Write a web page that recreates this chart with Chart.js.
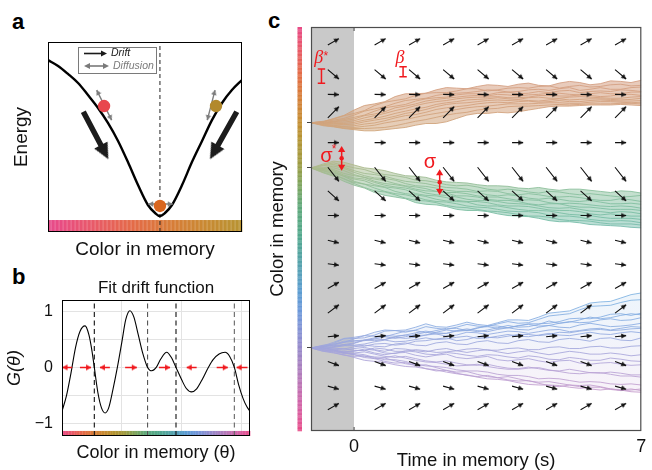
<!DOCTYPE html>
<html>
<head>
<meta charset="utf-8">
<title>Drift and diffusion of colours held in memory</title>
<script src="https://cdn.jsdelivr.net/npm/chart.js@4.4.1/dist/chart.umd.min.js"></script>
<style>
  html, body { margin: 0; padding: 0; background: #fff; }
  body { width: 652px; height: 470px; position: relative; overflow: hidden; }
  canvas { position: absolute; }
  .panel-tag { position: absolute; font: bold 22px "Liberation Sans", Arial, sans-serif; line-height: 22px; color: #000; }
</style>
</head>
<body>
<div class="panel-tag" style="left:12px;top:11px">a</div>
<div class="panel-tag" style="left:12px;top:266px">b</div>
<div class="panel-tag" style="left:268px;top:10px">c</div>
<canvas id="panelA" width="262" height="262" style="left:0;top:0"></canvas>
<canvas id="panelB" width="262" height="208" style="left:0;top:262px"></canvas>
<canvas id="panelC" width="390" height="470" style="left:262px;top:0"></canvas>
<script>
// ---------------- a: energy landscape over remembered colour ----------------
const energyColor = [0, 5.2, 10.3, 15.5, 20.6, 25.8, 30.9, 36.1, 41.2, 46.4, 51.5, 55.2, 57.7, 60.3, 63.9, 69.1, 74.2, 79.4, 84.5, 89.7, 94.8, 100];
const energyLevel = [90.5, 87.4, 83.2, 78.4, 72.1, 65.3, 57.4, 47.9, 36.8, 24.7, 14.2, 10, 8.4, 10, 14.2, 24.7, 36.8, 47.9, 58.9, 67.9, 74.7, 80];
const wellCentre = 57.7;
const itemColor = [28.9, 57.7, 86.6];
const itemLevel = [66.3, 13.7, 66.3];
const diffusionArrows = [[25.1, 74.7, 32.8, 58.9], [51.7, 14.7, 64.3, 14.7], [86.1, 74.7, 82.1, 58.9]];
const driftArrows = [[18.2, 63.3, 31.1, 38.3], [97.3, 63.3, 83.5, 38.3]];

// ---------------- b: fitted drift function G(θ) ----------------
const driftTheta = [0, 0.15, 0.3, 0.45, 0.6, 0.77, 0.9, 1.0, 1.08, 1.2, 1.32, 1.44, 1.56, 1.7, 1.85, 2.0, 2.13, 2.27, 2.4, 2.55, 2.7, 2.86, 3.0, 3.15, 3.3, 3.5, 3.65, 3.81, 4.0, 4.15, 4.33, 4.5, 4.7, 4.89, 5.05, 5.25, 5.45, 5.6, 5.76, 5.9, 6.05, 6.18, 6.283];
const driftG = [-0.78, -0.5, -0.1, 0.35, 0.64, 0.74, 0.58, 0.3, 0, -0.45, -0.72, -0.81, -0.72, -0.4, 0, 0.45, 0.85, 1.01, 0.9, 0.58, 0.25, 0, -0.06, 0, 0.15, 0.27, 0.18, 0, -0.22, -0.37, -0.435, -0.38, -0.2, 0, 0.14, 0.24, 0.27, 0.2, 0, -0.3, -0.55, -0.7, -0.78];
const attractorTheta = [1.08, 2.86, 3.81, 5.76];
const flowTail = [0.34, 0.6, 1.6, 2.11, 3.24, 4.5, 5.17, 6.2];
const flowTip = [0.02, 0.97, 1.27, 2.5, 3.61, 4.17, 5.54, 5.84];

// ---------------- c: simulated trajectories (colour in degrees, time in s) ----------------
const timeS = [-1.05, -0.75, -0.5, -0.25, 0, 0.25, 0.5, 0.75, 1, 1.25, 1.5, 1.75, 2, 2.25, 2.5, 2.75, 3, 3.25, 3.5, 3.75, 4, 4.25, 4.5, 4.75, 5, 5.25, 5.5, 5.75, 6, 6.25, 6.5, 6.75, 7];
const startColour = [85.3, 125.6, 286];
const bundleOrange = [
  [85.3,84.5,81.5,78.8,74,70,68.5,66.5,62,59.5,59.5,59,56,54,54.5,55,53,51.5,52,53,51,50,52,52.5,50,48.5,49.5,51.5,50.5,48,48.5,49.5,47.5],
  [85.3,84,82,79,77,74.5,70,67,65.5,64,61,59,58.5,58.5,57,55,55,57,56,54.5,54,54.5,53,52.5,54.5,53,52,53.5,53,51.5,51,52.5,52],
  [85.3,84.5,83,81.5,78.5,75,73,71,68,65.5,64.5,63.5,61,59.5,59,58.5,57.5,56,56.5,58,57.5,56,55.5,56.5,55,54,56.5,55.5,54,55.5,55.5,54,53.5],
  [85.3,85,84,82.5,80.5,78.5,75,72,70.5,69,66,64,63,62.5,60.5,59.5,59.5,60.5,58.5,58,59.5,59,57.5,58.5,57,56.5,58.5,57.5,57,57.5,56,56.5,57.5],
  [85.3,85.5,84.5,83.5,82,79,77.5,75.5,72,70.5,68.5,66,64.5,63.5,62.5,61.5,61,61.5,60,60.5,61.5,60.5,60,59,59,60,60.5,59.5,58.5,59.5,59.5,58,58],
  [85.3,85.5,85,84.8,83.5,81,79,77,74.5,72.5,70,68,66.5,65.5,64,63,62.5,62.5,62,63,63,62.5,61,61,61.5,61.5,60.5,61,62,61.5,60,60,61],
  [85.3,85.8,86,86,85,83,81.5,79.5,77,75,73,71.5,69,67.5,66.5,65,64.5,64,63,64,64.5,63,62.5,63.5,63.5,62.5,62,62.5,63,63.5,63.5,62.5,62],
  [85.3,86.2,86.5,87,86.5,84.5,83,81.5,79.5,77,75.5,73.5,71,69,68,67.5,66.5,65.5,65,65.5,65,65.5,66,65,64,65,64.5,64,64,64.5,65,64.5,63.5],
  [85.3,86.5,87.5,88.5,88,86.5,85.5,83.5,81,79,78,76,73.5,72,71,70,68.5,67.5,67,67.5,66.5,66,67,66.5,65.5,66.5,66.5,65.5,65,65.5,66,66,65.5],
  [85.3,87,88,89,89.5,88.5,87.5,85.5,84,82.5,80.5,78.5,77,75.5,73.5,72,71,70.5,69.5,68.5,68.5,68.5,68,67.5,67.5,68,68,67,66.5,66.5,67,67.5,67],
  [85.3,87.5,88.5,90,90.5,90.5,90,89.5,88,86,84,82.5,80.5,78.5,77,76,74,73,72.5,71,70.5,70.5,70,69.5,69,69.5,69,68.5,68.5,68.5,68,68,68.5],
  [85.3,88,89,90.5,91.5,92.5,92.5,91.5,90.5,89.5,87.5,86,86,84.5,81.5,78.5,77,77,76,76.5,75.5,74,72.5,71,70.5,70.5,70,69.5,69.5,69.5,69,69.5,70]
];
const bundleGreen = [
  [125.6,122,119.5,120.5,123,125.5,126.5,128,130.5,132.5,133,134,136.5,138,138.5,139,140.5,141.5,141.5,142,143.5,144,143,144.5,145.5,144.5,144.5,145.5,146.5,147.5,146,146.5,148],
  [125.6,123,121,123.5,125.5,127,130,131.5,132.5,134,136.5,137,138.5,140.5,141.5,141,142.5,144.5,145.5,144.5,145.5,147,148,146.5,147,148.5,149.5,148.5,149.5,150.5,151.5,151,150],
  [125.6,123.5,122.5,125,128,130.5,131.5,133,135.5,137.5,138.5,139.5,141.5,143,143.5,144.5,146.5,146,146.5,148.5,149.5,148.5,149.5,151,151.5,151,152,153.5,154.5,154.5,153,154,155.5],
  [125.6,125.5,124,126,129.5,132.5,134.5,135,136.5,139.5,141.5,142,143.5,145.5,146.5,146.5,147.5,149.5,150.5,149.5,150.5,152.5,153.5,152.5,153.5,155,155.5,154.5,156,157.5,157.5,157,158],
  [125.6,126.5,125.5,128,131.5,134,135.5,137,139.5,141.5,142.5,144,146.5,147.5,147.5,148.5,150.5,151.5,151.5,153,154.5,154,154.5,156.5,157.5,157,157.5,158.5,159.5,160,159.5,160,161.5],
  [125.6,126,127,130.5,132.5,134,137.5,139.5,140.5,142,144.5,146,146.5,148,150.5,150.5,151.5,153.5,154.5,154.5,155.5,157.5,158.5,157.5,157.5,159.5,160.5,160.5,161.5,162.5,162.5,162.5,163.5],
  [125.6,127,128,132,134.5,135.5,138.5,141,142.5,143.5,145.5,148,149.5,150,151.5,153.5,154.5,154.5,155.5,157,157.5,158,159.5,161,161.5,161,162.5,164,164.5,165.5,164.5,165,166.5],
  [125.6,127.5,129,133,135.5,137,140.5,142.5,143.5,145,148.5,150,150.5,152,154.5,155.5,155.5,156.5,158.5,159.5,159.5,160,161.5,163,163.5,163.5,164.5,166.5,167.5,166.5,167.5,168.5,168.5],
  [125.6,128.5,130,133,137.5,140,141.5,143,146.5,148.5,149.5,151,153.5,155,155.5,156,158.5,159.5,159.5,161,162.5,163.5,163.5,164,165.5,167,167.5,168,169.5,170.5,170.5,170.5,171.5],
  [125.6,128,131,135.5,138.5,140,143.5,146.5,148.5,149.5,151.5,154,155.5,156,157.5,159.5,160.5,161,162.5,164,164.5,164.5,165.5,167.5,168.5,168.5,169.5,171.5,172.5,173,172.5,173,174.5],
  [125.6,129.5,132,135,139.5,143,146,147,149.5,152.5,154.5,155,156.5,159,160.5,161,162.5,164,164.5,165.5,167,168.5,168.5,169.5,171.5,172.5,172.5,173,174.5,175.5,175.5,175.5,176.5],
  [125.6,130,133,137.5,141,143.5,147.5,150,151.5,153,156.5,158,158.5,160,162.5,163.5,163.5,164.5,166.5,168,168.5,169,170.5,172.5,173.5,173.5,174.5,176,176.5,177,177.5,178.5,179]
];
const bundleBlue = [
  [286,284,281,277.5,276.5,275,272,270,270.5,270,267.5,264.5,267,267.5,265.5,263,265,266,263.5,261,261,261.5,258.5,255,254,253,249.5,246,245,244.5,241.5,238.5,237],
  [286,285,282,278,277.5,277,274.5,271,270.5,272,270,267,268.5,269.5,267.5,265,266.5,267,264.5,262.5,264,263.5,260.5,257.5,256.5,255.5,252,249,248.5,248,245.5,243.5,243],
  [286,283.5,282.5,281,278,275,275.5,276,273.5,271,270.5,272.5,270.5,268.5,268.5,270.5,268.5,266,266.5,268,266.5,264.5,264.5,264,262.5,260,259.5,260,258.5,256,255.5,257,255],
  [286,285,283,280,279.5,279,277,275,275.5,274.5,272.5,271,272.5,273,270.5,269,270.5,271.5,269.5,268,269.5,270,267.5,266,267.5,268,265.5,264,265.5,267,266.5,265.5,264],
  [286,284.5,284,283,281.5,279,279.5,278.5,276.5,277.5,276.5,274.5,273.5,275.5,274.5,272,272.5,274,272.5,271,271.5,273,271.5,270,269.5,271.5,270.5,269,268.5,270,268.5,267,267.5],
  [286,286.5,285,283,283.5,282.5,280.5,279,280.5,280,278.5,277,278.5,278,276.5,275.5,277.5,277,275.5,274,275.5,276,274.5,273,274.5,275,273.5,272,273.5,274,272.5,271.5,272.5],
  [286,285.5,286,287,285,283.5,284.5,285,282.5,281.5,283.5,284,281.5,280.5,282.5,283,280.5,279.5,281.5,282,279.5,278.5,280.5,281,278.5,277.5,278.5,280,277.5,277,279,279.5,277],
  [286,286,287,288,286.5,285.5,287.5,289,286.5,287,288.5,289.5,287.5,286.5,288.5,290,288.5,287.5,289.5,291,289.5,288.5,290.5,292,290.5,289,290,291.5,291.5,290.5,291.5,293,292],
  [286,287.5,288,289.5,288.5,288,290.5,292,290.5,290,292.5,294,292.5,291.5,294.5,295.5,294.5,293.5,296.5,297.5,296.5,295.5,297.5,299,297.5,297,299.5,300.5,299.5,299,300.5,301.5,301],
  [286,286.5,288,290,290.5,289.5,291.5,293.5,294.5,293.5,295.5,297.5,298.5,297.5,299.5,301,301.5,300.5,302.5,304,304.5,303,304.5,306,306.5,305,306.5,308,308.5,307.5,308.5,310,310],
  [286,288,289,291,291,292,294.5,296.5,296.5,298,300.5,302,302.5,303.5,305.5,306.5,306.5,307.5,309.5,310.5,310.5,311.5,313.5,313,313.5,315,316.5,316,316.5,318,318.5,318,319],
  [286,287.5,290,292.5,293.5,293,295.5,298,299.5,299,301.5,304.5,306.5,306,308.5,310.5,311.5,310.5,312.5,314.5,315.5,315,317.5,319.5,320.5,319,320.5,322.5,323.5,322.5,323.5,325,325.5],
  [286,289,289.5,290,292,294.5,295.5,295,297.5,300,301.5,301,303.5,306,307.5,307,309.5,311.5,312.5,311.5,313.5,315.5,316.5,316,317.5,319,319.5,319,320.5,322.5,323.5,322.5,324],
  [286,284,284.5,284,282,279,278,278.5,276,274.5,275,274.5,272,270,271,270.5,268,267,268.5,268,266,265,266.5,266,264,262.5,263.5,263,261,260,261.5,261,259],
  [286,286,287.5,289.5,289,287,288,290.5,291,288.5,289.5,291.5,292,290,291,292.5,293.5,292,292.5,294,295,293,294,296,296.5,294.5,295.5,297,297,295,296,297.5,298],
  [286,288,288.5,290.5,292,293.5,294,294.5,293,295,297,298.5,299,300.5,302,301.5,300.5,302.5,304,305,305,304,303.5,305.5,307,308.5,309,308,308,309.5,311,311,312],
  [286,289,290.5,292,294.5,297,298,299,301,302.5,303,304.5,305.5,307.5,309,310,312,313.5,314,315,317,318.5,319,319,319.5,321,322,321,321,323,324,323.5,322.5],
  [286,286.5,285.5,284,284,284.5,282.5,282,283.5,282.5,280,279.5,278,277,279.5,278.5,276,276.5,277,275.5,274,274,275,274,272,272.5,271,270,269.5,270.5,270,269,268.5],
  [286,287,287,286.5,288,288.5,286,287,289,289,287.5,288.5,290,289.5,288.5,287,286.5,288,288,286.5,286,287.5,287.5,285.5,285,286.5,286.5,285,284.5,286,286,284.5,284],
  [286,285,283.5,281,280,279.5,278,276,277.5,276,274,272,273.5,273,271,270,271.5,270,268,266,267.5,267,265,262,264,263,261,258.5,260,259,257,255.5,256.5]
];
const quiverTime = [-0.64, 0.5, 1.34, 2.17, 3.01, 3.85, 4.68, 5.52, 6.36];
const quiverColour = [16, 38, 60, 81, 103, 125, 146, 168, 190, 211, 233, 255, 276, 298, 320, 341];
const quiverDrift = [-0.45, 0.67, 0.02, -0.8, 0, 1.0, 0.72, 0, 0.2, 0.1, -0.45, -0.6, -0.08, 0.3, 0.22, -0.45];

// ---------------- styling ----------------
const FONT = '"Liberation Sans", Arial, sans-serif';
Chart.defaults.font.family = FONT;
Chart.defaults.color = '#111';
const RED = '#f0191e';
// saturated colour wheel used by the colour strips
const WHEEL_STOPS = [
  [0, '#e84a86'], [20, '#e85a68'], [40, '#e46a48'], [60, '#d87c38'], [80, '#c88a32'],
  [100, '#b49432'], [120, '#a09a40'], [140, '#7ea45c'], [160, '#5ea87a'], [185, '#52a88c'],
  [210, '#54a2aa'], [235, '#5a9cd0'], [255, '#6e98da'], [275, '#8a90d2'], [295, '#a084c4'],
  [315, '#b878b8'], [335, '#d064a8'], [350, '#e05898'], [360, '#e84a86']
];
// softer wheel used for the simulated trajectories
const TRACE_STOPS = [
  [0, '#dc9ab4'], [40, '#d6a088'], [70, '#d4a27e'], [95, '#cfa67c'], [120, '#b4b98a'],
  [145, '#8cc09c'], [170, '#78bea6'], [205, '#7cb8c8'], [240, '#7cb2e2'], [265, '#88ace2'],
  [285, '#a0a6dc'], [305, '#b6a2d6'], [325, '#c69ccc'], [345, '#d69ac0'], [360, '#dc9ab4']
];
const ARROW_DT = 0.27;      // quiver shaft length along time (s)
const ARROW_DCOL = 12.5;    // quiver rise per unit drift (deg)

function hexRgb(h) { return [1, 3, 5].map(i => parseInt(h.slice(i, i + 2), 16)); }
function paletteAt(stops, deg, a = 1) {
  const d = ((deg % 360) + 360) % 360;
  for (let i = 1; i < stops.length; i++) {
    const [d0, c0] = stops[i - 1], [d1, c1] = stops[i];
    if (d <= d1) {
      const f = (d - d0) / (d1 - d0), p = hexRgb(c0), q = hexRgb(c1);
      const m = p.map((v, k) => Math.round(v + (q[k] - v) * f));
      return `rgba(${m[0]},${m[1]},${m[2]},${a})`;
    }
  }
  return stops[0][1];
}
const wheel = (deg, a) => paletteAt(WHEEL_STOPS, deg, a);
const trace = (deg, a) => paletteAt(TRACE_STOPS, deg, a);

function headImage(len, half, color) {
  const c = document.createElement('canvas');
  c.width = 2 * Math.ceil(len) + 2; c.height = 2 * Math.ceil(half) + 2;
  const g = c.getContext('2d'), cx = c.width / 2, cy = c.height / 2;
  g.fillStyle = color; g.beginPath();
  g.moveTo(cx, cy); g.lineTo(cx - len, cy - half); g.lineTo(cx - len, cy + half); g.closePath(); g.fill();
  return c;
}
function screenAngle(chart, [x0, y0, x1, y1]) {
  const xs = chart.scales.x, ys = chart.scales.y;
  return Math.atan2(ys.getPixelForValue(y1) - ys.getPixelForValue(y0),
                    xs.getPixelForValue(x1) - xs.getPixelForValue(x0)) * 180 / Math.PI;
}
// shaft + arrowhead layers for a list of [x0, y0, x1, y1]
function arrowLayers(list, o) {
  const shaft = [], heads = [], dirs = [];
  const f = o.shaftFrac ?? 1;
  list.forEach(([x0, y0, x1, y1]) => {
    shaft.push({ x: x0, y: y0 }, { x: x0 + (x1 - x0) * f, y: y0 + (y1 - y0) * f }, { x: x1, y: null });
    heads.push({ x: x1, y: y1 }); dirs.push([x0, y0, x1, y1]);
    if (o.both) { heads.push({ x: x0, y: y0 }); dirs.push([x1, y1, x0, y0]); }
  });
  const img = headImage(o.len, o.half, o.color);
  return [
    { data: shaft, borderColor: o.color, borderWidth: o.width, pointRadius: 0, borderCapStyle: 'butt', spanGaps: false, order: o.order ?? 0 },
    { data: heads, showLine: false, pointStyle: img, pointRadius: 3, pointRotation: ctx => screenAngle(ctx.chart, dirs[ctx.dataIndex]), order: o.order ?? 0 }
  ];
}
function frame(id, color, width) {
  return { id, afterDatasetsDraw(chart) {
    const { ctx, chartArea: a } = chart;
    ctx.save(); ctx.strokeStyle = color; ctx.lineWidth = width;
    ctx.strokeRect(a.left + 0.5, a.top + 0.5, a.right - a.left - 1, a.bottom - a.top - 1);
    ctx.restore();
  } };
}
function baseOptions(extra) {
  return Object.assign({
    responsive: false, animation: false, devicePixelRatio: 1, events: [],
    plugins: { legend: { display: false }, tooltip: { enabled: false }, title: { display: false } }
  }, extra);
}
const hiddenAxis = { ticks: { display: false }, grid: { display: false, drawTicks: false }, border: { display: false } };

// ================= a =================
const stripA = { id: 'stripA', beforeDatasetsDraw(chart) {
  const { ctx, scales: { x, y } } = chart;
  const top = y.getPixelForValue(6.3), bot = y.getPixelForValue(0), n = 97;
  for (let i = 0; i < n; i++) {
    const v0 = i * 100 / n, v1 = (i + 1) * 100 / n;
    const xa = x.getPixelForValue(v0), xb = x.getPixelForValue(v1);
    ctx.fillStyle = wheel(-4 + (v0 + v1) / 2 * 1.02, i % 2 ? 0.86 : 1);
    ctx.fillRect(xa, top, xb - xa + 0.3, bot - top);
  }
} };
const legendA = { id: 'legendA', afterDatasetsDraw(chart) {
  const { ctx, chartArea: a } = chart;
  const L = a.left, T = a.top;
  ctx.save();
  ctx.fillStyle = '#fff'; ctx.strokeStyle = '#7a7a7a'; ctx.lineWidth = 1;
  ctx.fillRect(L + 30, T + 5, 78, 26); ctx.strokeRect(L + 30.5, T + 5.5, 78, 26);
  const arrow = (x0, x1, yy, col, both) => {
    ctx.strokeStyle = col; ctx.fillStyle = col; ctx.lineWidth = 1.6;
    ctx.beginPath(); ctx.moveTo(x0 + (both ? 3 : 0), yy); ctx.lineTo(x1 - 3, yy); ctx.stroke();
    ctx.beginPath(); ctx.moveTo(x1, yy); ctx.lineTo(x1 - 6, yy - 3); ctx.lineTo(x1 - 6, yy + 3); ctx.closePath(); ctx.fill();
    if (both) { ctx.beginPath(); ctx.moveTo(x0, yy); ctx.lineTo(x0 + 6, yy - 3); ctx.lineTo(x0 + 6, yy + 3); ctx.closePath(); ctx.fill(); }
  };
  arrow(L + 36, L + 59, T + 11.5, '#1a1a1a', false);
  arrow(L + 36, L + 61, T + 24, '#7a7a7a', true);
  ctx.font = 'italic 10.5px ' + FONT; ctx.textBaseline = 'middle';
  ctx.fillStyle = '#1a1a1a'; ctx.fillText('Drift', L + 63, T + 11.5);
  ctx.fillStyle = '#7a7a7a'; ctx.fillText('Diffusion', L + 65, T + 24);
  ctx.restore();
} };

new Chart(document.getElementById('panelA'), {
  type: 'line',
  data: { datasets: [
    { data: itemColor.map((c, i) => ({ x: c, y: itemLevel[i] })), showLine: false, pointRadius: 6.2,
      pointBackgroundColor: ['#e8474d', '#d9661f', '#b2892c'], pointBorderWidth: 0, order: 0 },
    ...arrowLayers(diffusionArrows, { color: '#7d7d7d', width: 1.4, len: 5, half: 2.8, both: true, order: 1 }),
    ...arrowLayers(driftArrows, { color: '#1c1c1c', width: 5.5, len: 16, half: 7.5, shaftFrac: 0.78, order: 1 }),
    { data: energyColor.map((c, i) => ({ x: c, y: energyLevel[i] })), borderColor: '#000', borderWidth: 2.4,
      pointRadius: 0, cubicInterpolationMode: 'monotone', order: 2 },
    { data: [{ x: wellCentre, y: 0 }, { x: wellCentre, y: 100 }], borderColor: '#222', borderWidth: 1,
      borderDash: [4, 3], pointRadius: 0, order: 3 }
  ] },
  options: baseOptions({
    layout: { padding: { top: 42, right: 20, left: 0, bottom: 0 } },
    scales: {
      x: Object.assign({}, hiddenAxis, { type: 'linear', min: 0, max: 100,
        title: { display: true, text: 'Color in memory', font: { size: 19 }, padding: { top: 0, bottom: 0.6 }, color: '#111' },
        afterFit: s => { s.height = 30; } }),
      y: Object.assign({}, hiddenAxis, { min: 0, max: 100,
        title: { display: true, text: 'Energy', font: { size: 19 }, padding: { top: 10.5, bottom: 0 }, color: '#111' },
        afterFit: s => { s.width = 48; } })
    }
  }),
  plugins: [stripA, legendA, frame('frameA', '#000', 1)]
});

// ================= b =================
const stripB = { id: 'stripB', beforeDatasetsDraw(chart) {
  const { ctx, scales: { x, y } } = chart;
  const top = y.getPixelForValue(-1.13), bot = y.getPixelForValue(-1.22), n = 120, span = 2 * Math.PI;
  for (let i = 0; i < n; i++) {
    const v0 = i * span / n, v1 = (i + 1) * span / n;
    const xa = x.getPixelForValue(v0), xb = x.getPixelForValue(v1);
    ctx.fillStyle = wheel((v0 + v1) / 2 * 180 / Math.PI);
    ctx.fillRect(xa, top, xb - xa + 0.3, bot - top);
  }
} };
const attractorStyle = ['#111', '#555', '#111', '#666'];
new Chart(document.getElementById('panelB'), {
  type: 'line',
  data: { datasets: [
    ...arrowLayers(flowTail.map((t, i) => [t, 0, flowTip[i], 0]), { color: RED, width: 1.6, len: 5, half: 3, order: 0 }),
    { data: driftTheta.map((t, i) => ({ x: t, y: driftG[i] })), borderColor: '#000', borderWidth: 1.1,
      pointRadius: 0, cubicInterpolationMode: 'monotone', order: 1 },
    ...attractorTheta.map((t, i) => ({ data: [{ x: t, y: -1.22 }, { x: t, y: 1.2 }], borderColor: attractorStyle[i],
      borderWidth: 1.1, borderDash: [5, 3.5], pointRadius: 0, order: 2 }))
  ] },
  options: baseOptions({
    layout: { padding: { top: 0, right: 12, left: 0, bottom: 0 } },
    plugins: { legend: { display: false }, tooltip: { enabled: false },
      title: { display: true, text: 'Fit drift function', fullSize: false, font: { size: 17, weight: 'normal' },
        color: '#111', padding: { top: 15.8, bottom: 1.8 } } },
    scales: {
      x: { type: 'linear', min: 0, max: 2 * Math.PI,
        afterBuildTicks: s => { s.ticks = [0, 2, 4, 6].map(v => ({ value: v })); },
        ticks: { display: false }, grid: { color: '#e3e3e3', drawTicks: false }, border: { display: false },
        title: { display: true, text: 'Color in memory (θ)', font: { size: 18 }, padding: { top: 0, bottom: 5.9 }, color: '#111' },
        afterFit: s => { s.height = 34; } },
      y: { min: -1.22, max: 1.2,
        afterBuildTicks: s => { s.ticks = [-1, -0.5, 0, 0.5, 1].map(v => ({ value: v })); },
        ticks: { font: { size: 16 }, color: '#111', padding: 9,
          callback: v => (v === 1 ? '1' : v === 0 ? '0' : v === -1 ? '\u22121' : '') },
        grid: { color: '#e3e3e3', drawTicks: false }, border: { display: false },
        title: { display: true, text: 'G(θ)', font: { size: 18, style: 'italic' }, padding: { top: 4.2, bottom: 0 }, color: '#111' },
        afterFit: s => { s.width = 62; } }
    }
  }),
  plugins: [stripB, frame('frameB', '#000', 1)]
});

// ================= c =================
function bandFill(alpha) {
  return ctx => {
    const ch = ctx.chart;
    if (!ch.chartArea) return 'rgba(0,0,0,0)';
    const ys = ch.scales.y;
    const g = ch.ctx.createLinearGradient(0, ys.getPixelForValue(0), 0, ys.getPixelForValue(360));
    TRACE_STOPS.forEach(([d]) => g.addColorStop(d / 360, trace(d, alpha)));
    return g;
  };
}
function bundleLayers(lines, bandAlpha, lineAlpha) {
  const lo = timeS.map((t, i) => ({ x: t, y: Math.min(...lines.map(l => l[i])) }));
  const hi = timeS.map((t, i) => ({ x: t, y: Math.max(...lines.map(l => l[i])) }));
  const traj = lines.map(l => ({
    data: timeS.map((t, i) => ({ x: t, y: l[i] })), borderWidth: 1, pointRadius: 0, order: 1,
    borderColor: trace(l[l.length - 1], lineAlpha),
    segment: { borderColor: c => trace((c.p0.parsed.y + c.p1.parsed.y) / 2, lineAlpha) }
  }));
  return [
    ...traj,
    { data: lo, borderWidth: 0, pointRadius: 0, order: 2 },
    { data: hi, borderWidth: 0, pointRadius: 0, order: 2, fill: '-1', backgroundColor: bandFill(bandAlpha) }
  ];
}
const quiverList = [];
quiverTime.forEach(t => quiverColour.forEach((c, k) => {
  quiverList.push([t, c, t + ARROW_DT, c + ARROW_DCOL * quiverDrift[k]]);
}));

const colourBarC = { id: 'colourBarC', afterDraw(chart) {
  const { ctx, chartArea: a, scales: { y } } = chart;
  for (let d = 0; d < 360; d += 2) {
    const y0 = y.getPixelForValue(d), y1 = y.getPixelForValue(d + 2);
    ctx.fillStyle = wheel(d + 1, (d / 2) % 2 ? 0.88 : 1);
    ctx.fillRect(a.left - 13.5, y0, 4.5, y1 - y0 + 0.3);
  }
} };
const notesC = { id: 'notesC', afterDatasetsDraw(chart) {
  const { ctx, scales: { x, y } } = chart;
  const X = v => x.getPixelForValue(v), Y = v => y.getPixelForValue(v);
  ctx.save();
  ctx.fillStyle = RED; ctx.strokeStyle = RED; ctx.lineWidth = 1.5;
  ctx.textAlign = 'center'; ctx.textBaseline = 'alphabetic';
  ctx.font = 'italic 18px "Liberation Serif", serif';
  ctx.fillText('β', X(-0.86), Y(32.3));
  ctx.fillText('β', X(1.116), Y(32.1));
  ctx.font = '20px ' + FONT;
  ctx.fillText('σ', X(-0.676), Y(120));
  ctx.fillText('σ', X(1.851), Y(125.9));
  ctx.font = '12px ' + FONT;
  ctx.fillText('*', X(-0.69), Y(29.0));
  ctx.fillText('*', X(-0.49), Y(112.0));
  const ibar = (t, c0, c1) => {
    const xx = X(t), ya = Y(c0), yb = Y(c1);
    ctx.beginPath();
    ctx.moveTo(xx, ya); ctx.lineTo(xx, yb);
    ctx.moveTo(xx - 3.7, ya); ctx.lineTo(xx + 3.7, ya);
    ctx.moveTo(xx - 3.7, yb); ctx.lineTo(xx + 3.7, yb);
    ctx.stroke();
  };
  ibar(-0.795, 37.4, 50.2);
  ibar(1.194, 35.4, 44.3);
  const spread = (t, c0, c1) => {
    const xx = X(t), ya = Y(c0), yb = Y(c1);
    ctx.beginPath(); ctx.moveTo(xx, ya + 5); ctx.lineTo(xx, yb - 5); ctx.stroke();
    ctx.beginPath(); ctx.moveTo(xx, ya); ctx.lineTo(xx - 3.6, ya + 6); ctx.lineTo(xx + 3.6, ya + 6); ctx.closePath(); ctx.fill();
    ctx.beginPath(); ctx.moveTo(xx, yb); ctx.lineTo(xx - 3.6, yb - 6); ctx.lineTo(xx + 3.6, yb - 6); ctx.closePath(); ctx.fill();
    ctx.beginPath(); ctx.arc(xx, (ya + yb) / 2, 2.2, 0, Math.PI * 2); ctx.fill();
  };
  spread(-0.303, 106.0, 128.0);
  spread(2.086, 126.8, 149.7);
  ctx.restore();
} };

new Chart(document.getElementById('panelC'), {
  type: 'line',
  data: { datasets: [
    ...arrowLayers(quiverList, { color: '#111', width: 1.1, len: 4.8, half: 2.5, order: 0 }),
    ...bundleLayers(bundleOrange, 0.55, 0.9),
    ...bundleLayers(bundleGreen, 0.5, 0.9),
    ...bundleLayers(bundleBlue, 0.13, 0.85),
    { data: [{ x: 0, y: 0 }, { x: 0, y: 360 }], showLine: false, pointStyle: 'line', pointRotation: 90,
      pointRadius: 4, pointBorderColor: '#444', pointBorderWidth: 1, clip: 0, order: 0 },
    { data: [{ x: -1.05, y: 360 }, { x: 0, y: 360 }], borderWidth: 0, pointRadius: 0,
      fill: { target: { value: 0 } }, backgroundColor: '#c9c9c9', order: 3 }
  ] },
  options: baseOptions({
    layout: { padding: { top: 27, right: 4, left: 0, bottom: 0 } },
    scales: {
      x: { type: 'linear', min: -1.05, max: 7,
        afterBuildTicks: s => { s.ticks = [{ value: 0 }, { value: 7 }]; },
        ticks: { font: { size: 18 }, color: '#111', padding: 5.7, maxRotation: 0, autoSkip: false },
        grid: { display: false, drawTicks: false }, border: { display: false },
        title: { display: true, text: 'Time in memory (s)', font: { size: 18.5, lineHeight: 1 }, padding: 0, color: '#111' },
        afterFit: s => { s.height = 39; } },
      y: { min: 0, max: 360, reverse: true,
        afterBuildTicks: s => { s.ticks = startColour.map(v => ({ value: v })); },
        ticks: { callback: () => '', padding: 0 },
        grid: { drawOnChartArea: false, drawTicks: true, tickLength: 4, color: '#444' }, border: { display: false },
        title: { display: true, text: 'Color in memory', font: { size: 18.5 }, padding: { top: 4.5, bottom: 0 }, color: '#111' },
        afterFit: s => { s.width = 49; } }
    }
  }),
  plugins: [colourBarC, notesC, frame('frameC', '#4d4d4d', 1.2)]
});
</script>
</body>
</html>
